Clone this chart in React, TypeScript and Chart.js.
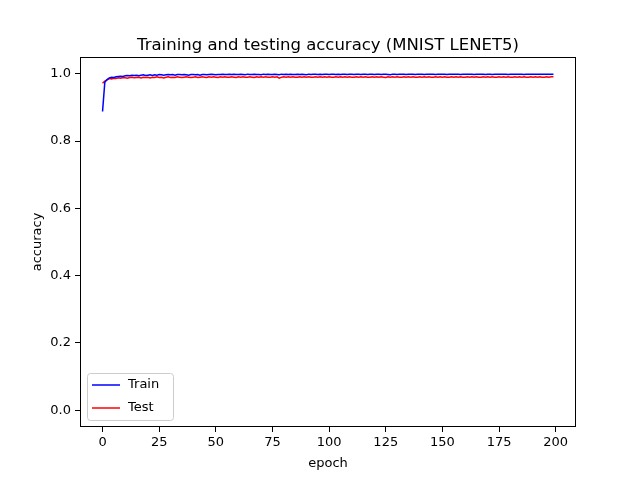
import Chart from "chart.js/auto";
import React, { useEffect, useRef } from "react";

const title = "Training and testing accuracy (MNIST LENET5)";
const xLabel = "epoch";
const yLabel = "accuracy";
const xTicks = [0, 25, 50, 75, 100, 125, 150, 175, 200];
const yTicks = [0.0, 0.2, 0.4, 0.6, 0.8, 1.0];

const trainAcc = [
  0.888, 0.975, 0.983, 0.988, 0.99, 0.989, 0.991, 0.992, 0.993, 0.992, 0.994, 0.995, 0.994, 0.996, 0.995, 0.996, 0.994, 0.996, 0.997, 0.995,
  0.996, 0.997, 0.995, 0.997, 0.996, 0.998, 0.997, 0.996, 0.997, 0.998, 0.997, 0.998, 0.996, 0.998, 0.998, 0.997, 0.998, 0.997, 0.996, 0.998,
  0.998, 0.997, 0.998, 0.996, 0.998, 0.998, 0.997, 0.998, 0.999, 0.998, 0.997, 0.998, 0.998, 0.999, 0.998, 0.998, 0.999, 0.998, 0.999, 0.998,
  0.998, 0.999, 0.998, 0.997, 0.999, 0.998, 0.998, 0.999, 0.998, 0.998, 0.997, 0.999, 0.998, 0.999, 0.998, 0.998, 0.999, 0.998, 0.997, 0.999,
  0.998, 0.999, 0.998, 0.999, 0.998, 0.998, 0.999, 0.998, 0.999, 0.998, 0.997, 0.999, 0.998, 0.999, 0.999, 0.998, 0.999, 0.998, 0.999, 0.999,
  0.998, 0.999, 0.999, 0.998, 0.999, 0.998, 0.999, 0.999, 0.998, 0.999, 0.999, 0.998, 0.999, 0.999, 0.998, 0.999, 0.999, 0.998, 0.999, 0.999,
  0.998, 0.999, 0.999, 0.998, 0.999, 0.999, 0.998, 0.997, 0.999, 0.999, 0.998, 0.999, 0.999, 0.999, 0.998, 0.999, 0.999, 0.999, 0.998, 0.999,
  0.999, 0.999, 0.998, 0.999, 0.999, 0.999, 0.999, 0.998, 0.999, 0.999, 0.999, 0.999, 0.998, 0.999, 0.999, 0.999, 0.999, 0.999, 0.998, 0.999,
  0.999, 0.999, 0.999, 0.999, 0.998, 0.999, 0.999, 0.999, 0.999, 0.998, 0.999, 0.999, 0.998, 0.999, 0.999, 0.999, 0.999, 0.999, 0.999, 0.998,
  0.999, 0.999, 0.999, 0.999, 0.999, 0.999, 0.998, 0.999, 0.999, 0.999, 0.999, 0.999, 0.999, 0.999, 0.999, 0.999, 0.999, 0.999, 0.999, 0.999,
];

const testAcc = [
  0.972, 0.978, 0.982, 0.986, 0.985, 0.987, 0.986, 0.988, 0.987, 0.989, 0.988, 0.987, 0.989, 0.99, 0.988, 0.989, 0.99, 0.988, 0.99, 0.989,
  0.99, 0.988, 0.99, 0.989, 0.991, 0.989, 0.99, 0.988, 0.99, 0.991, 0.989, 0.99, 0.989, 0.991, 0.99, 0.989, 0.99, 0.991, 0.99, 0.989,
  0.99, 0.991, 0.989, 0.99, 0.991, 0.99, 0.989, 0.991, 0.99, 0.991, 0.99, 0.989, 0.991, 0.99, 0.991, 0.99, 0.99, 0.991, 0.99, 0.989,
  0.991, 0.99, 0.991, 0.99, 0.99, 0.991, 0.99, 0.989, 0.991, 0.99, 0.991, 0.99, 0.991, 0.99, 0.99, 0.991, 0.99, 0.991, 0.987, 0.99,
  0.991, 0.99, 0.991, 0.99, 0.991, 0.99, 0.99, 0.991, 0.99, 0.991, 0.99, 0.991, 0.99, 0.99, 0.991, 0.99, 0.991, 0.99, 0.991, 0.99,
  0.991, 0.99, 0.99, 0.991, 0.99, 0.991, 0.99, 0.991, 0.99, 0.991, 0.99, 0.99, 0.991, 0.99, 0.991, 0.99, 0.991, 0.99, 0.99, 0.991,
  0.99, 0.991, 0.99, 0.991, 0.99, 0.989, 0.991, 0.99, 0.991, 0.99, 0.991, 0.99, 0.99, 0.991, 0.99, 0.991, 0.99, 0.991, 0.99, 0.99,
  0.991, 0.99, 0.991, 0.99, 0.991, 0.99, 0.99, 0.991, 0.99, 0.991, 0.99, 0.991, 0.99, 0.99, 0.991, 0.99, 0.991, 0.99, 0.991, 0.99,
  0.99, 0.991, 0.99, 0.991, 0.99, 0.991, 0.99, 0.99, 0.991, 0.99, 0.991, 0.99, 0.991, 0.99, 0.99, 0.991, 0.99, 0.991, 0.99, 0.991,
  0.99, 0.99, 0.991, 0.99, 0.991, 0.99, 0.991, 0.99, 0.99, 0.991, 0.99, 0.991, 0.99, 0.991, 0.99, 0.99, 0.991, 0.99, 0.991, 0.991,
];

const FONT = "'DejaVu Sans', sans-serif";

const decorations = {
  id: "decorations",
  afterDraw(chart: any) {
    const { ctx, chartArea: a } = chart;
    ctx.save();
    ctx.strokeStyle = "black";
    ctx.lineWidth = 1;
    ctx.strokeRect(a.left + 0.5, a.top + 0.5, a.right - a.left - 1, a.bottom - a.top - 1);
    ctx.fillStyle = "black";
    ctx.textAlign = "center";
    ctx.textBaseline = "alphabetic";
    ctx.font = `16.5px ${FONT}`;
    ctx.fillText(title, (a.left + a.right) / 2, 50);
    ctx.font = `13px ${FONT}`;
    ctx.fillText(xLabel, (a.left + a.right) / 2, 467);
    ctx.save();
    ctx.translate(41, (a.top + a.bottom) / 2);
    ctx.rotate(-Math.PI / 2);
    ctx.fillText(yLabel, 0, 0);
    ctx.restore();
    // legend
    const bx = 87, by = 373, bw = 86, bh = 47;
    ctx.fillStyle = "rgba(255,255,255,0.8)";
    ctx.strokeStyle = "#cccccc";
    ctx.beginPath();
    ctx.roundRect(bx + 0.5, by + 0.5, bw, bh, 3);
    ctx.fill();
    ctx.stroke();
    const items = [
      { label: "Train", color: "blue", y: 385 },
      { label: "Test", color: "red", y: 408 },
    ];
    ctx.textAlign = "left";
    ctx.textBaseline = "middle";
    ctx.lineWidth = 1.5;
    for (const it of items) {
      ctx.strokeStyle = it.color;
      ctx.beginPath();
      ctx.moveTo(92, it.y);
      ctx.lineTo(120, it.y);
      ctx.stroke();
      ctx.fillStyle = "black";
      ctx.fillText(it.label, 128, it.y);
    }
    ctx.restore();
  },
};

export default function App() {
  const chartRef = useRef<HTMLCanvasElement>(null);

  useEffect(() => {
    document.body.style.margin = "0";
    let chartInstance: Chart | null = null;
    if (chartRef.current) {
      // @ts-ignore
      chartInstance = new Chart(chartRef.current, {
        type: "line",
        data: {
          datasets: [
            {
              label: "Train",
              data: trainAcc.map((v, i) => ({ x: i, y: v })),
              borderColor: "blue",
              borderWidth: 1.5,
              pointRadius: 0,
              tension: 0,
            },
            {
              label: "Test",
              data: testAcc.map((v, i) => ({ x: i, y: v })),
              borderColor: "red",
              borderWidth: 1.5,
              pointRadius: 0,
              tension: 0,
            },
          ],
        },
        options: {
          animation: false,
          responsive: false,
          layout: { padding: { top: 57, right: 64, left: 0, bottom: 0 } },
          plugins: { legend: { display: false }, tooltip: { enabled: false } },
          scales: {
            x: {
              type: "linear",
              min: -9.95,
              max: 208.95,
              afterBuildTicks: (s: any) => {
                s.ticks = xTicks.map((v) => ({ value: v }));
              },
              afterFit: (s: any) => {
                s.height = 53;
              },
              grid: { display: true, drawOnChartArea: false, drawTicks: true, tickLength: 5, color: "black" },
              border: { display: false },
              ticks: { color: "black", font: { family: FONT, size: 13 }, padding: 3, maxRotation: 0 },
            },
            y: {
              min: -0.05,
              max: 1.05,
              afterBuildTicks: (s: any) => {
                s.ticks = yTicks.map((v) => ({ value: v }));
              },
              afterFit: (s: any) => {
                s.width = 80;
              },
              grid: { display: true, drawOnChartArea: false, drawTicks: true, tickLength: 5, color: "black" },
              border: { display: false },
              ticks: {
                color: "black",
                font: { family: FONT, size: 13 },
                padding: 4,
                callback: (v: any) => Number(v).toFixed(1),
              },
            },
          },
        },
        plugins: [decorations],
      });
    }
    return () => {
      if (chartInstance) chartInstance.destroy();
    };
  }, []);

  return <canvas ref={chartRef} width={640} height={480} style={{ display: "block" }} />;
}
